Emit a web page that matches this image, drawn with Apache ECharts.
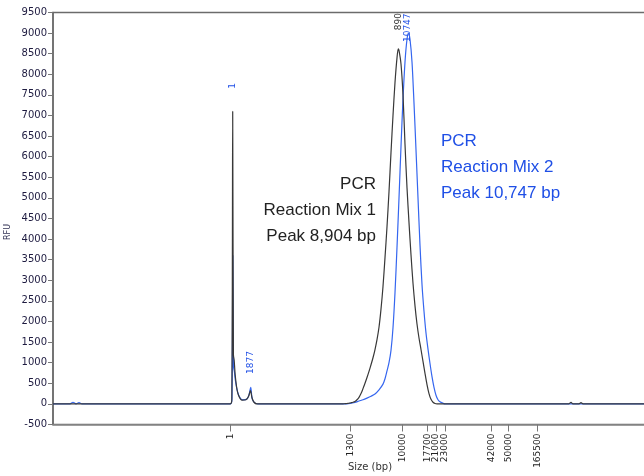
<!DOCTYPE html>
<html>
<head>
<meta charset="utf-8">
<script src="https://cdn.jsdelivr.net/npm/echarts@6/dist/echarts.min.js"></script>
<style>
  html, body { margin: 0; padding: 0; background: #fff; }
  #chart { width: 644px; height: 476px; }
</style>
</head>
<body>
<div id="chart"></div>
<script>
// Electropherogram: RFU against scan position, with sizing ladder ticks (bp)

// Sizing ladder: scan position of each labelled tick and its size label
const sizeTickScans = [1777, 2977, 3497, 3743, 3830, 3920, 4387, 4553, 4847];
const sizeTickLabels = ['1', '1300', '10000', '17700', '21000', '23000', '42000', '50000', '165500'];

// PCR Reaction Mix 1 trace (scan, RFU)
const mix1Scans = [0, 1770, 1788, 1797, 1804, 1812, 1822, 1840, 1860, 1890, 1930, 1955, 1975, 1990, 2010, 2040,
  2900, 2920, 2940, 2960, 2980, 3000, 3020, 3040, 3060, 3080, 3100, 3120, 3140, 3160, 3180, 3200, 3220, 3240, 3260, 3280,
  3300, 3320, 3340, 3360, 3380, 3400, 3420, 3440, 3453, 3460, 3480, 3500, 3520, 3540, 3560, 3580, 3600, 3620, 3640, 3660,
  3680, 3700, 3720, 3740, 3760, 3780, 3800, 3820, 3840,
  5160, 5180, 5200, 5260, 5280, 5300, 5930];
const mix1Rfu = [0, 0, 100, 7100, 1200, 1050, 700, 350, 180, 90, 100, 180, 320, 150, 40, 0,
  0, 5, 10, 18, 28, 40, 60, 100, 160, 250, 370, 500, 640, 790, 950, 1120, 1320, 1560, 1860, 2300,
  2850, 3550, 4300, 5150, 6100, 7000, 7800, 8400, 8615, 8580, 8250, 7500, 6300, 5250, 4400, 3620, 2930, 2380, 1940, 1600,
  1320, 1030, 740, 470, 250, 110, 40, 10, 0,
  0, 40, 0, 0, 30, 0, 0];

// PCR Reaction Mix 2 trace (scan, RFU)
const mix2Scans = [0, 170, 200, 230, 260, 290, 1775, 1790, 1798, 1805, 1813, 1825, 1845, 1870, 1895, 1940, 1960, 1977, 1992, 2015, 2050,
  2940, 2980, 3020, 3060, 3100, 3140, 3180, 3220, 3260, 3300, 3320, 3340, 3360, 3380, 3400, 3420, 3440, 3460, 3480, 3500,
  3520, 3540, 3555, 3570, 3590, 3610, 3630, 3650, 3670, 3690, 3710, 3730, 3750, 3770, 3790, 3810, 3830, 3850, 3870, 3900, 3920, 5930];
const mix2Rfu = [0, 0, 40, 0, 30, 0, 0, 150, 3600, 900, 800, 550, 300, 150, 100, 120, 220, 400, 120, 30, 0,
  0, 15, 35, 70, 100, 140, 185, 240, 340, 480, 610, 800, 1000, 1300, 1850, 2700, 3800, 5000, 6250, 7400,
  8300, 8850, 9000, 8850, 8300, 7300, 6165, 5000, 3850, 2900, 2250, 1720, 1330, 980, 660, 400, 210, 100, 50, 15, 0, 0];

// Peak size calls (scan, RFU at label centre, text)
const mix1PeakCalls = [[3458, 9280, '890']];
const mix2PeakCalls = [[1795, 7720, '1'], [1977, 1005, '1877'], [3548, 9130, '10747']];

const BLACK = '#383838';
const BLUE = '#3566ef';
const TEXT_BLUE = '#1f4fe6';

const zip = (xs, ys) => xs.map((x, i) => [x, ys[i]]);

function peakMarks(calls, color) {
  return {
    symbol: 'circle',
    symbolSize: 1,
    itemStyle: { color: 'rgba(0,0,0,0)' },
    label: {
      show: true, position: 'inside', rotate: 90, color: color,
      fontFamily: 'DejaVu Sans', fontSize: 9,
      formatter: p => p.name
    },
    data: calls.map(c => ({ coord: [c[0], c[1]], name: c[2] }))
  };
}

const chart = echarts.init(document.getElementById('chart'), null, { renderer: 'canvas' });
chart.setOption({
  animation: false,
  backgroundColor: '#fff',
  grid: {
    left: 53, right: -2, top: 12.5, bottom: 51.5,
    outerBoundsMode: 'none', containLabel: false,
    show: true, borderColor: '#6b6b6b', borderWidth: 1.5, backgroundColor: 'transparent'
  },
  xAxis: {
    type: 'value', min: 0, max: 5930,
    axisLine: { show: true, onZero: false, lineStyle: { color: '#8a8a8a', width: 1.5 } },
    axisTick: { show: true, customValues: sizeTickScans, length: 7, lineStyle: { color: '#777' } },
    axisLabel: {
      show: true, customValues: sizeTickScans, rotate: 90, margin: 9,
      fontFamily: 'DejaVu Sans', fontSize: 9, color: '#222',
      formatter: v => {
        const i = sizeTickScans.indexOf(v);
        return i >= 0 ? sizeTickLabels[i] : '';
      }
    },
    splitLine: { show: false }
  },
  yAxis: {
    type: 'value', min: -500, max: 9500, interval: 500,
    axisLine: { show: true, onZero: false, lineStyle: { color: '#6b6b6b', width: 1.5 } },
    axisTick: { show: true, length: 5, lineStyle: { color: '#777' } },
    axisLabel: {
      fontFamily: 'DejaVu Sans', fontSize: 10, color: '#1e1b40', margin: 6,
      formatter: v => String(v)
    },
    splitLine: { show: false }
  },
  series: [
    {
      name: 'PCR Reaction Mix 2', type: 'line', data: zip(mix2Scans, mix2Rfu),
      showSymbol: false, smooth: 0.3, z: 2,
      lineStyle: { color: BLUE, width: 1.2 },
      markPoint: peakMarks(mix2PeakCalls, TEXT_BLUE)
    },
    {
      name: 'PCR Reaction Mix 1', type: 'line', data: zip(mix1Scans, mix1Rfu),
      showSymbol: false, smooth: 0.3, z: 3,
      lineStyle: { color: BLACK, width: 1.2 },
      markPoint: peakMarks(mix1PeakCalls, '#333')
    }
  ],
  graphic: [
    {
      type: 'text', x: 370, y: 462,
      style: { text: 'Size (bp)', align: 'center', fontFamily: 'DejaVu Sans', fontSize: 10, fill: '#333' }
    },
    {
      type: 'text', x: 8, y: 232, rotation: Math.PI / 2,
      style: { text: 'RFU', align: 'center', verticalAlign: 'middle', fontFamily: 'DejaVu Sans', fontSize: 8, fill: '#333355' }
    },
    {
      type: 'text', x: 376, y: 171,
      style: {
        text: 'PCR\nReaction Mix 1\nPeak 8,904 bp', align: 'right',
        fontFamily: 'Liberation Sans', fontSize: 17, lineHeight: 26, fill: '#222'
      }
    },
    {
      type: 'text', x: 441, y: 128,
      style: {
        text: 'PCR\nReaction Mix 2\nPeak 10,747 bp', align: 'left',
        fontFamily: 'Liberation Sans', fontSize: 17, lineHeight: 26, fill: TEXT_BLUE
      }
    }
  ]
});
</script>
</body>
</html>
